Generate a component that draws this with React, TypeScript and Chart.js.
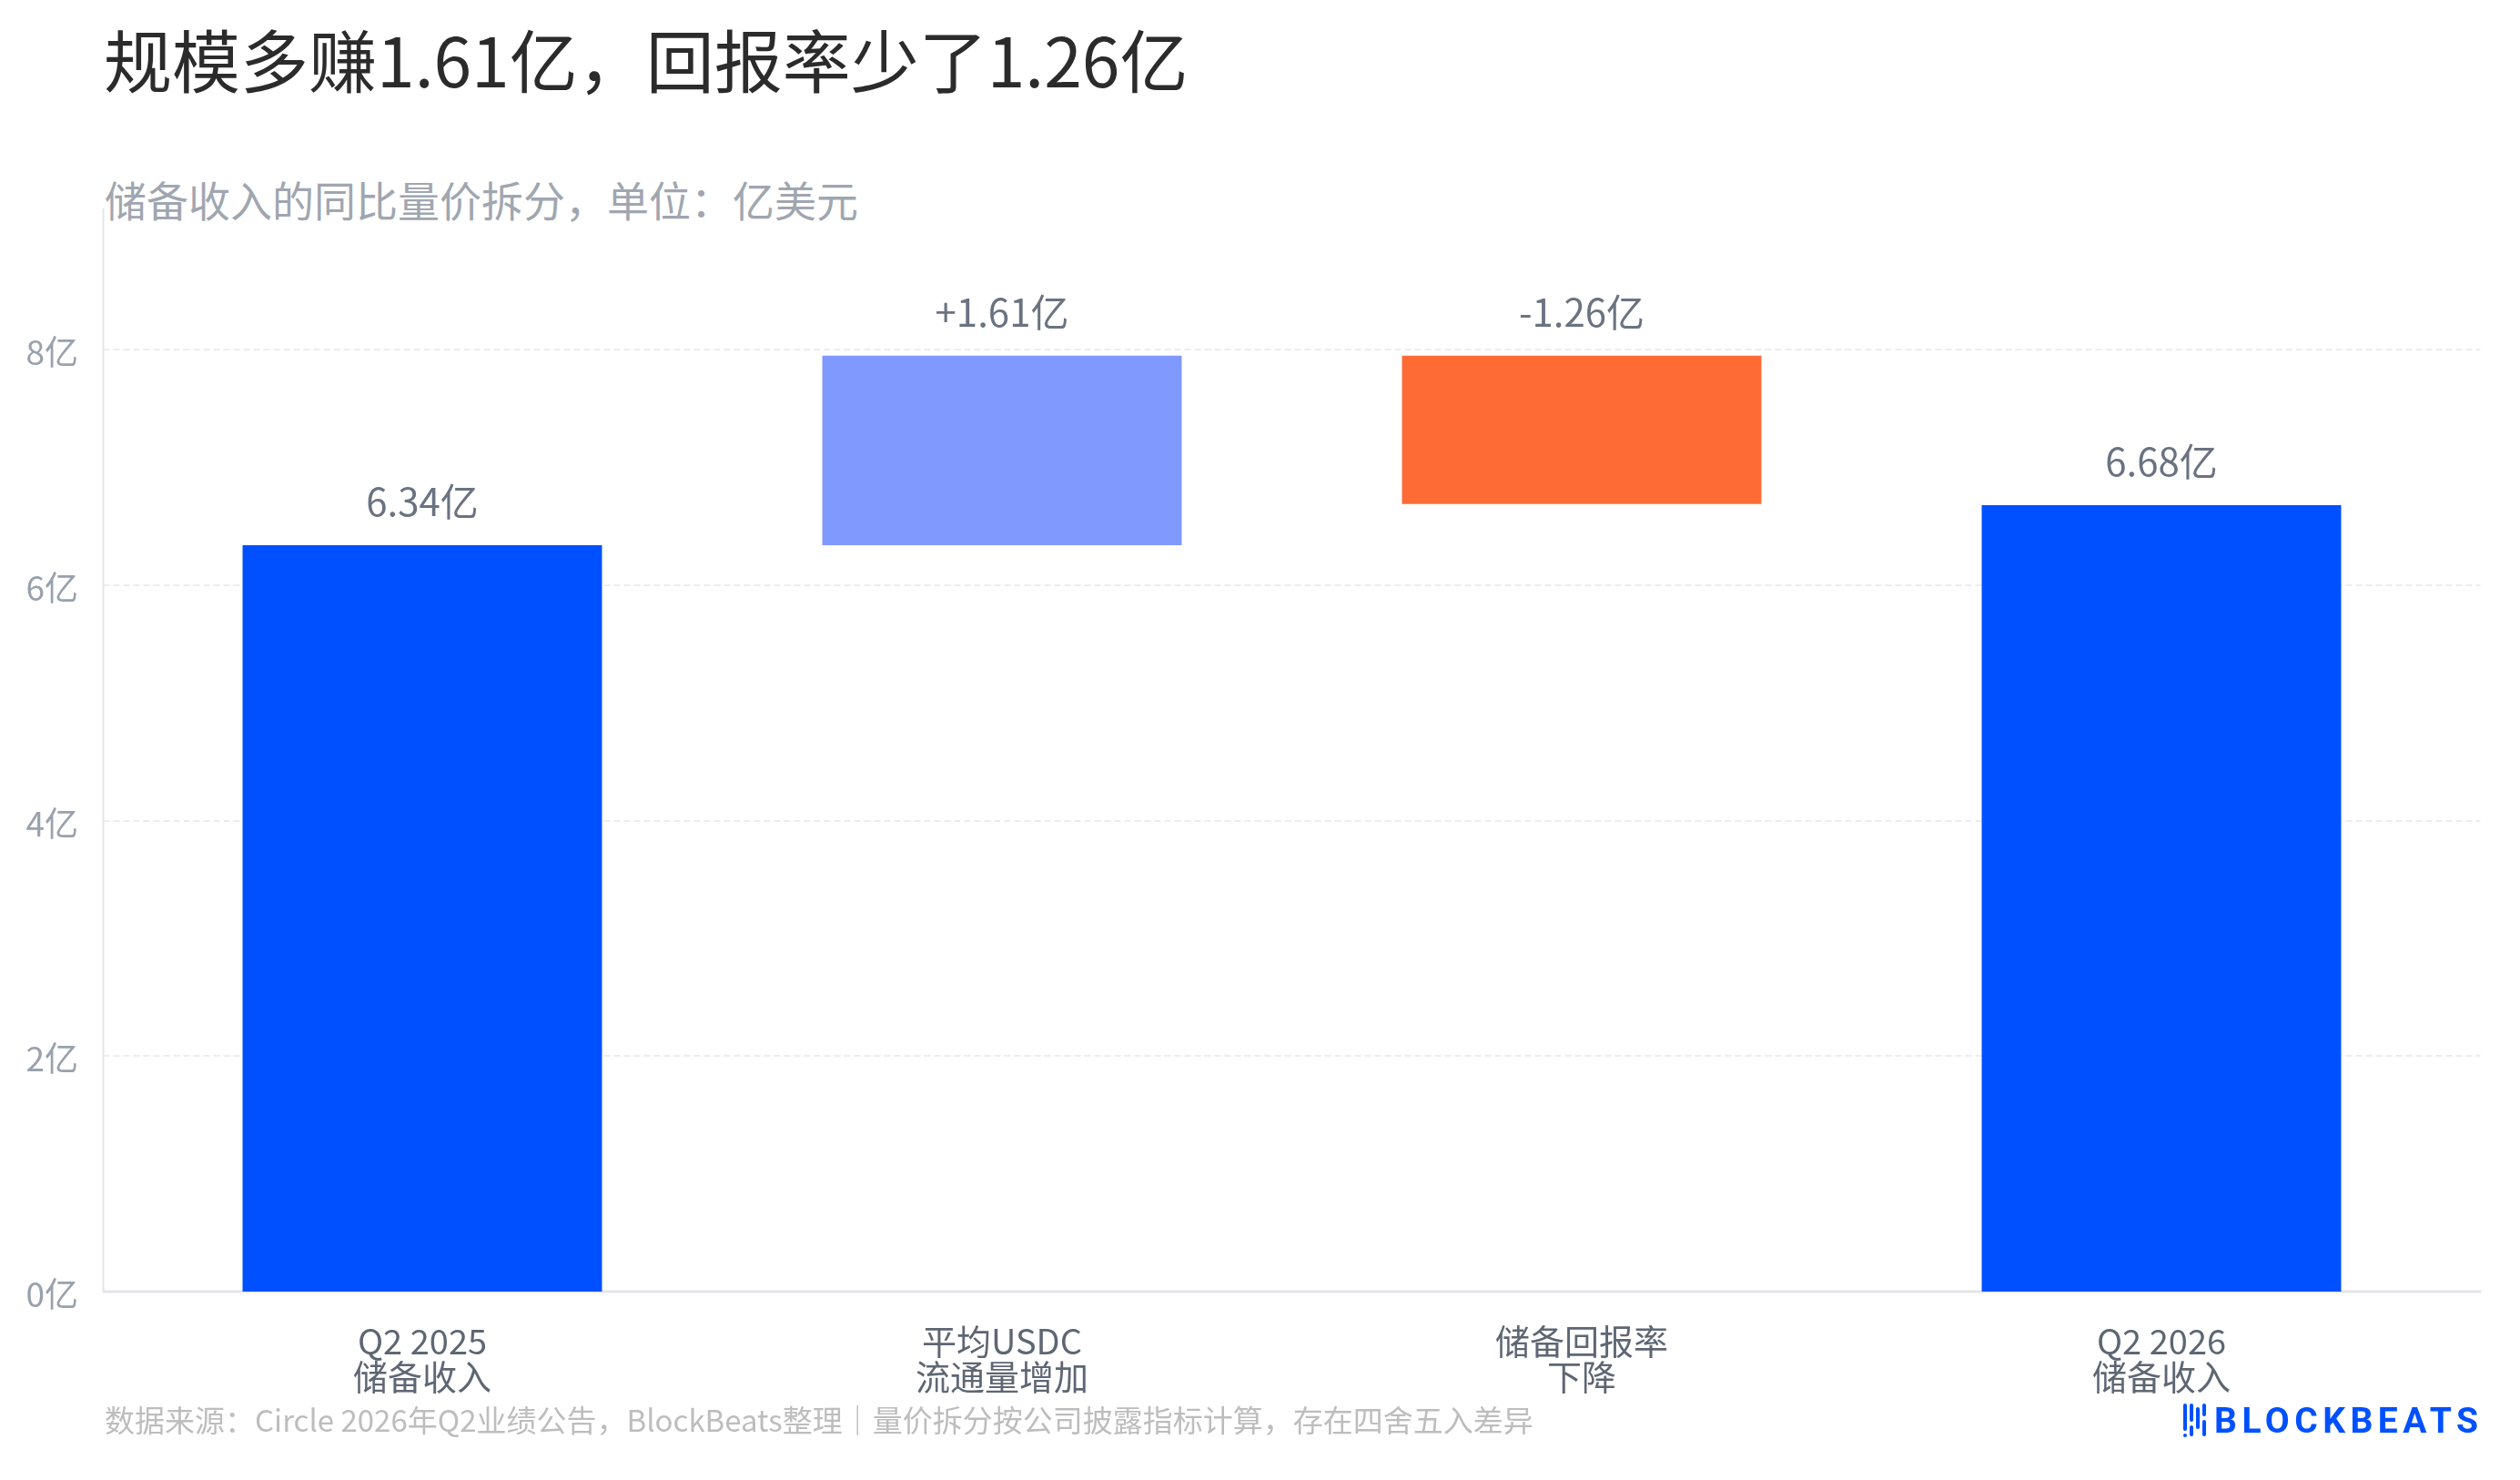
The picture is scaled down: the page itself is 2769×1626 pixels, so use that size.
import { useEffect, useRef } from 'react';
import { Chart, registerables } from 'chart.js';

Chart.register(...registerables);

const FONT = '"Noto Sans CJK SC", "Noto Sans", sans-serif';

// categories (two-line tick labels)
const categories = [
    ['Q2 2025', '储备收入'],
    ['平均USDC', '流通量增加'],
    ['储备回报率', '下降'],
    ['Q2 2026', '储备收入'],
];

// values in 亿美元
const startRevenue = 6.34;
const volumeEffect = 1.61;
const rateEffect = -1.26;
const endRevenue = 6.68;

const valueLabels = ['6.34亿', '+1.61亿', '-1.26亿', '6.68亿'];
const barColors = ['#0050ff', '#8099ff', '#ff6b35', '#0050ff'];
const yTicks = [0, 2, 4, 6, 8];

// gridlines and axis lines reach a bit past the bar slots
const gridPlugin = {
    id: 'waterfallGrid',
    beforeDatasetsDraw(chart: any) {
        const { ctx, chartArea, scales } = chart;
        const y = scales.y;
        const left = chartArea.left - 32;
        const right = chartArea.right + 32;
        const y0 = y.getPixelForValue(0);
        ctx.save();
        ctx.strokeStyle = '#ededed';
        ctx.lineWidth = 2;
        ctx.setLineDash([7, 4]);
        yTicks.forEach(v => {
            if (v === 0) return;
            const py = Math.round(y.getPixelForValue(v));
            ctx.beginPath();
            ctx.moveTo(left, py);
            ctx.lineTo(right, py);
            ctx.stroke();
        });
        ctx.setLineDash([]);
        ctx.strokeStyle = '#e3e5ea';
        ctx.lineWidth = 2;
        ctx.beginPath();
        ctx.moveTo(left, chartArea.top);
        ctx.lineTo(left, y0);
        ctx.stroke();
        ctx.lineWidth = 3;
        ctx.beginPath();
        ctx.moveTo(left - 1, y0);
        ctx.lineTo(right + 1, y0);
        ctx.stroke();
        ctx.restore();
    },
};

const labelPlugin = {
    id: 'barValueLabels',
    afterDatasetsDraw(chart: any) {
        const { ctx } = chart;
        const meta = chart.getDatasetMeta(0);
        ctx.save();
        ctx.font = `42px ${FONT}`;
        ctx.fillStyle = '#6b7280';
        ctx.textAlign = 'center';
        ctx.textBaseline = 'alphabetic';
        meta.data.forEach((bar: any, i: number) => {
            const top = Math.min(bar.y, bar.base);
            ctx.fillText(valueLabels[i], bar.x, top - 32);
        });
        ctx.restore();
    },
};

function WaterfallChart() {
    const chartRef = useRef<HTMLCanvasElement>(null);
    const chartInstance = useRef<Chart | null>(null);

    useEffect(() => {
        if (!chartRef.current) return;
        if (chartInstance.current) chartInstance.current.destroy();

        const afterVolume = startRevenue + volumeEffect;
        const ranges = [
            [0, startRevenue],
            [startRevenue, afterVolume],
            [afterVolume + rateEffect, afterVolume],
            [0, endRevenue],
        ];

        chartInstance.current = new Chart(chartRef.current, {
            type: 'bar',
            data: {
                labels: categories,
                datasets: [
                    {
                        data: ranges as any,
                        backgroundColor: barColors,
                        borderWidth: 0,
                        borderSkipped: false,
                        categoryPercentage: 0.62,
                        barPercentage: 1,
                    },
                ],
            },
            options: {
                responsive: false,
                animation: false,
                devicePixelRatio: 1,
                layout: {
                    padding: { top: 229, left: 0, right: 75.5, bottom: 0 },
                },
                plugins: {
                    legend: { display: false },
                    title: { display: false },
                    tooltip: { enabled: false },
                },
                scales: {
                    x: {
                        offset: true,
                        grid: { display: false, drawTicks: false },
                        border: { display: false },
                        ticks: {
                            padding: 35,
                            color: '#5f6673',
                            font: { family: FONT, size: 38, lineHeight: 1.02 },
                            maxRotation: 0,
                            autoSkip: false,
                        },
                        afterFit: (scale: any) => {
                            scale.height = 1626 - 1419;
                        },
                    },
                    y: {
                        min: 0,
                        max: 9.2,
                        grid: { display: false, drawTicks: false },
                        border: { display: false },
                        ticks: {
                            stepSize: 2,
                            includeBounds: false,
                            padding: 59.5,
                            labelOffset: 3,
                            color: '#9aa1ad',
                            font: { family: FONT, size: 37 },
                            callback: (v: any) => `${v}亿`,
                        },
                        afterFit: (scale: any) => {
                            scale.width = 145.5;
                        },
                    },
                },
            },
            plugins: [gridPlugin, labelPlugin],
        });

        return () => {
            if (chartInstance.current) {
                chartInstance.current.destroy();
                chartInstance.current = null;
            }
        };
    }, []);

    return (
        <canvas
            ref={chartRef}
            width={2769}
            height={1626}
            style={{ position: 'absolute', left: 0, top: 0, width: 2769, height: 1626 }}
        />
    );
}

function Logo() {
    // small bar icon + wordmark
    const bars = [
        { x: 0, y: 0, h: 30 },
        { x: 7, y: 0, h: 20 },
        { x: 14, y: 4, h: 24 },
        { x: 21, y: 0, h: 14 },
    ];
    return (
        <div style={{ position: 'absolute', left: 2399, top: 1542, height: 40, width: 340 }}>
            {bars.map((b, i) => (
                <div
                    key={i}
                    style={{
                        position: 'absolute',
                        left: b.x,
                        top: b.y,
                        width: 4,
                        height: b.h,
                        borderRadius: 2,
                        background: '#0050ff',
                    }}
                />
            ))}
            <div style={{ position: 'absolute', left: 0, top: 33, width: 4, height: 4, borderRadius: 2, background: '#0050ff' }} />
            <div style={{ position: 'absolute', left: 7, top: 24, width: 4, height: 12, borderRadius: 2, background: '#0050ff' }} />
            <div style={{ position: 'absolute', left: 21, top: 18, width: 4, height: 18, borderRadius: 2, background: '#0050ff' }} />
            <div
                style={{
                    position: 'absolute',
                    left: 34,
                    top: 0,
                    fontFamily: 'Roboto, sans-serif',
                    fontWeight: 700,
                    fontSize: 39,
                    lineHeight: '38px',
                    letterSpacing: 5.5,
                    color: '#0050ff',
                    whiteSpace: 'nowrap',
                }}
            >
                BLOCKBEATS
            </div>
        </div>
    );
}

export default function App() {
    return (
        <div
            style={{
                position: 'absolute',
                left: 0,
                top: 0,
                width: 2769,
                height: 1626,
                background: '#ffffff',
                overflow: 'hidden',
                fontFamily: FONT,
            }}
        >
            <div
                style={{
                    position: 'absolute',
                    left: 114,
                    top: 26,
                    fontSize: 75,
                    lineHeight: 1,
                    fontWeight: 400,
                    color: '#2b2b2b',
                    whiteSpace: 'nowrap',
                }}
            >
                规模多赚1.61亿，回报率少了1.26亿
            </div>
            <div
                style={{
                    position: 'absolute',
                    left: 115,
                    top: 195,
                    fontSize: 46,
                    lineHeight: 1,
                    color: '#a0a6b0',
                    whiteSpace: 'nowrap',
                }}
            >
                储备收入的同比量价拆分，单位：亿美元
            </div>
            <WaterfallChart />
            <div
                style={{
                    position: 'absolute',
                    left: 115,
                    top: 1543,
                    fontSize: 33,
                    lineHeight: 1,
                    color: '#bdbdbd',
                    whiteSpace: 'nowrap',
                }}
            >
                数据来源：Circle 2026年Q2业绩公告，BlockBeats整理｜量价拆分按公司披露指标计算，存在四舍五入差异
            </div>
            <Logo />
        </div>
    );
}
